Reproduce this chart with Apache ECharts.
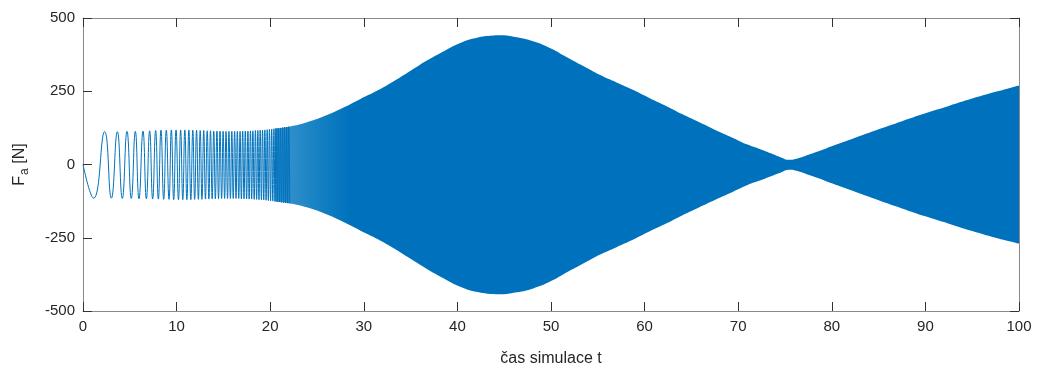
<!DOCTYPE html>
<html>
<head>
<meta charset="utf-8">
<script src="https://cdn.jsdelivr.net/npm/echarts@6/dist/echarts.min.js"></script>
<style>
  html, body { margin: 0; padding: 0; background: #fff; }
  #chart { width: 1040px; height: 372px; }
</style>
</head>
<body>
<div id="chart"></div>
<script>
// early part of the signal: extrema (peaks / troughs)
var oscT = [0, 1.14, 2.31, 3.03, 3.67, 4.20, 4.70, 5.16, 5.59, 5.98, 6.41, 6.77, 7.12, 7.44, 7.76, 8.05, 8.33, 8.62, 8.90, 9.19, 9.44, 9.69, 9.94, 10.20,
  10.43, 10.66, 10.88, 11.10, 11.31, 11.52, 11.73, 11.93, 12.13, 12.33, 12.52, 12.71, 12.90, 13.08, 13.27, 13.45, 13.62, 13.80, 13.97, 14.14,
  14.31, 14.48, 14.64, 14.81, 14.97, 15.13, 15.28, 15.44, 15.59, 15.75, 15.90, 16.05, 16.20, 16.35, 16.49, 16.64, 16.78, 16.92, 17.06, 17.20,
  17.34, 17.48, 17.62, 17.75, 17.89, 18.02, 18.15, 18.29, 18.42, 18.55, 18.68, 18.80, 18.93, 19.06, 19.18, 19.31, 19.43, 19.56, 19.68, 19.80,
  19.92, 20.04, 20.16, 20.28, 20.40, 20.51, 20.63, 20.75, 20.86, 20.98, 21.09, 21.20, 21.32, 21.43, 21.54, 21.65, 21.76, 21.87, 21.98, 22.09]
var oscV = [0, -115, 112, -115, 112, -116, 113, -116, 113, -117, 114, -117, 115, -118, 116, -118, 117, -119, 117, -119, 118, -120, 118, -120,
  118, -120, 118, -120, 118, -120, 117, -119, 117, -119, 116, -119, 116, -118, 115, -118, 115, -117, 114, -117,
  114, -117, 114, -116, 113, -116, 113, -116, 113, -116, 113, -116, 113, -116, 113, -116, 113, -117, 114, -117,
  114, -117, 114, -118, 115, -118, 115, -119, 116, -119, 116, -120, 117, -120, 117, -121, 118, -122, 119, -123,
  120, -124, 121, -125, 122, -126, 123, -127, 124, -128, 125, -129, 126, -130, 127, -131, 128, -132, 129, -133]

// dense part: envelope of the band
var envT = [20.5, 22, 24, 26, 28, 29.6, 31.5, 33.2, 35, 36.7, 38.5, 40.3, 42, 43.8, 44.6, 46, 48.1, 50, 51.7, 53.5, 55.2, 57, 58.8, 60.5, 62.4, 64, 65.9, 67.5, 69.5, 71, 72.3, 73.5, 74.5, 75.5, 76.5, 77.5, 78.5, 80, 82.5, 85, 87.5, 90, 92.5, 95, 97.5, 100]
var envUpper = [123, 129, 145, 168, 197, 223, 253, 284, 320, 354, 386, 415, 432, 440, 441, 436, 421, 396, 366, 335, 306, 280, 254, 227, 198, 172, 143, 119, 90, 68, 53, 38, 25, 16, 22, 33, 44, 62, 91, 120, 148, 175, 200, 225, 248, 270]
var envLower = [-126, -132, -147, -170, -199, -225, -255, -286, -322, -356, -388, -417, -434, -442, -443, -438, -423, -398, -368, -337, -308, -282, -256, -229, -200, -174, -145, -121, -92, -70, -55, -40, -28, -18, -24, -35, -46, -64, -93, -122, -150, -177, -202, -227, -250, -270]

var xTicks = { min: 0, max: 100, interval: 10 }
var yTicks = { min: -500, max: 500, interval: 250 }

var blue = '#0072BD'
var font = "'Liberation Sans', Arial, sans-serif"

var oscData = oscT.map(function (t, i) { return [t, oscV[i]] })
var upperData = envT.map(function (t, i) { return [t, envUpper[i]] })
var lowerData = envT.map(function (t, i) { return [t, envLower[i]] })

// band fades in where the single oscillations are still visible as stripes
// (opaque tints, so the overlap of the two halves does not show)
var bandFill = new echarts.graphic.LinearGradient(0, 0, 1, 0, [
  { offset: 0, color: '#3f95ce' },
  { offset: 0.05, color: '#1a84c4' },
  { offset: 0.1, color: blue },
  { offset: 1, color: blue }
])

function boxAxis (base, pos, showLabel) {
  return Object.assign({
    type: 'value',
    position: pos,
    axisLine: { show: true, onZero: false, lineStyle: { color: '#8a8a8a', width: 1 } },
    axisTick: { show: true, inside: true, length: 9, lineStyle: { color: '#333', width: 1 } },
    splitLine: { show: false },
    axisLabel: { show: showLabel, color: '#262626', fontSize: 15, fontFamily: font, margin: 8 }
  }, base)
}

function bandHalf (data, origin) {
  return {
    type: 'line',
    data: data,
    showSymbol: false,
    smooth: 0.5,
    lineStyle: { width: 0 },
    // the two halves overlap a little around zero so no seam shows
    areaStyle: { color: bandFill, opacity: 1, origin: origin }
  }
}

var chart = echarts.init(document.getElementById('chart'))
chart.setOption({
  animation: false,
  backgroundColor: '#fff',
  grid: { left: 83, right: 21, top: 18, bottom: 55, containLabel: false },
  xAxis: [
    Object.assign(boxAxis(xTicks, 'bottom', true), {
      name: 'čas simulace t',
      nameLocation: 'middle',
      nameGap: 40,
      nameTextStyle: { color: '#262626', fontSize: 16, fontFamily: font }
    }),
    boxAxis(xTicks, 'top', false)
  ],
  yAxis: [
    Object.assign(boxAxis(yTicks, 'left', true), {
      name: '{f|F}{s|a}{f| [N]}',
      nameLocation: 'middle',
      nameGap: 52,
      nameTextStyle: {
        rich: {
          f: { color: '#262626', fontSize: 16, fontFamily: font, lineHeight: 22, verticalAlign: 'middle' },
          s: { color: '#262626', fontSize: 12, fontFamily: font, lineHeight: 22, verticalAlign: 'bottom', padding: [10, 0, 0, 1] }
        }
      }
    }),
    boxAxis(yTicks, 'right', false)
  ],
  series: [
    bandHalf(upperData, -10),
    bandHalf(lowerData, 10),
    {
      type: 'line',
      data: oscData,
      showSymbol: false,
      smooth: 0.5,
      lineStyle: { color: blue, width: 1 }
    }
  ]
})
</script>
</body>
</html>
